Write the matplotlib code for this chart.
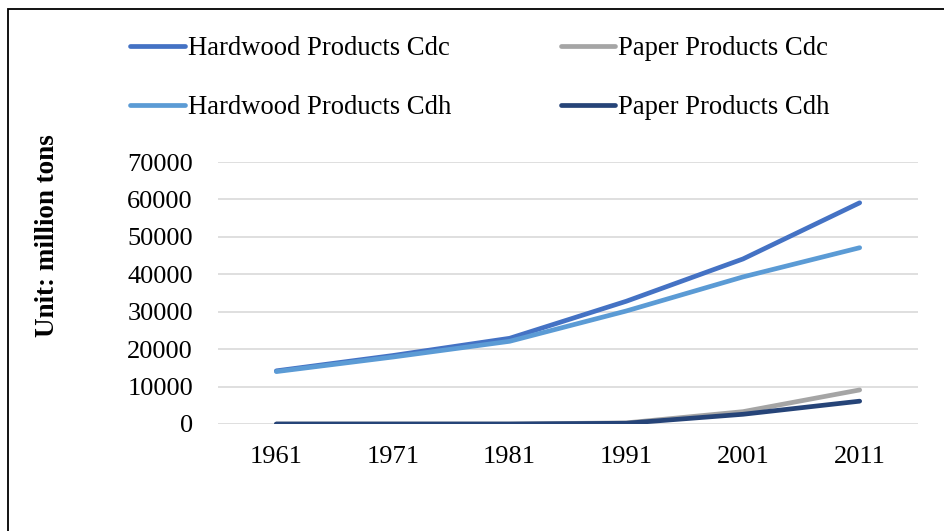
import matplotlib.pyplot as plt
from matplotlib.patches import Rectangle

plt.rcParams['font.family'] = ['Liberation Serif', 'DejaVu Serif']

# data
years = ['1961', '1971', '1981', '1991', '2001', '2011']
hardwood_cdc = [14200, 18300, 22900, 32800, 44100, 59100]
hardwood_cdh = [14000, 17900, 22100, 30200, 39300, 47100]
paper_cdc = [0, 0, 0, 300, 3300, 9100]
paper_cdh = [0, 0, 0, 200, 2600, 6100]
y_ticks = [0, 10000, 20000, 30000, 40000, 50000, 60000, 70000]

fig = plt.figure(figsize=(9.44, 5.31), dpi=100)
ax = fig.add_axes([218 / 944, 1 - 424 / 531, 700 / 944, 262 / 531])

x = range(len(years))
lw = 3.4
h1, = ax.plot(x, hardwood_cdc, color='#4472C4', lw=lw, solid_capstyle='round', label='Hardwood Products Cdc')
h2, = ax.plot(x, paper_cdc, color='#A5A5A5', lw=lw, solid_capstyle='round', label='Paper Products Cdc')
h3, = ax.plot(x, hardwood_cdh, color='#5B9BD5', lw=lw, solid_capstyle='round', label='Hardwood Products Cdh')
h4, = ax.plot(x, paper_cdh, color='#264478', lw=lw, solid_capstyle='round', label='Paper Products Cdh')

ax.set_xlim(-0.5, len(years) - 0.5)
ax.set_ylim(0, 70000)
ax.set_yticks(y_ticks)
ax.set_yticklabels([str(v) for v in y_ticks])
ax.set_xticks(list(x))
ax.set_xticklabels(years)
ax.tick_params(axis='both', length=0, labelsize=19)
ax.tick_params(axis='y', pad=18)
ax.tick_params(axis='x', pad=16)
ax.grid(axis='y', color='#D9D9D9', lw=1.2)
ax.set_axisbelow(True)
for s in ax.spines.values():
    s.set_visible(False)

fig.text(48 / 944, 1 - 236 / 531, 'Unit: million tons', rotation=90, fontsize=19.5,
         fontweight='bold', ha='center', va='center')

fig.legend(handles=[h1, h3, h2, h4], ncol=2, loc='upper left',
           bbox_to_anchor=(106 / 944, 1 - 12 / 531), frameon=False, fontsize=19.2,
           handlelength=2.05, handletextpad=0.12, columnspacing=4.1, labelspacing=1.27)

# outer frame
fig.patches.append(Rectangle((8 / 944, -0.1), 1.2, 1 - 9 / 531 + 0.1, transform=fig.transFigure,
                             fill=False, edgecolor='black', lw=1.3))

fig.savefig('out.png', dpi=100)
